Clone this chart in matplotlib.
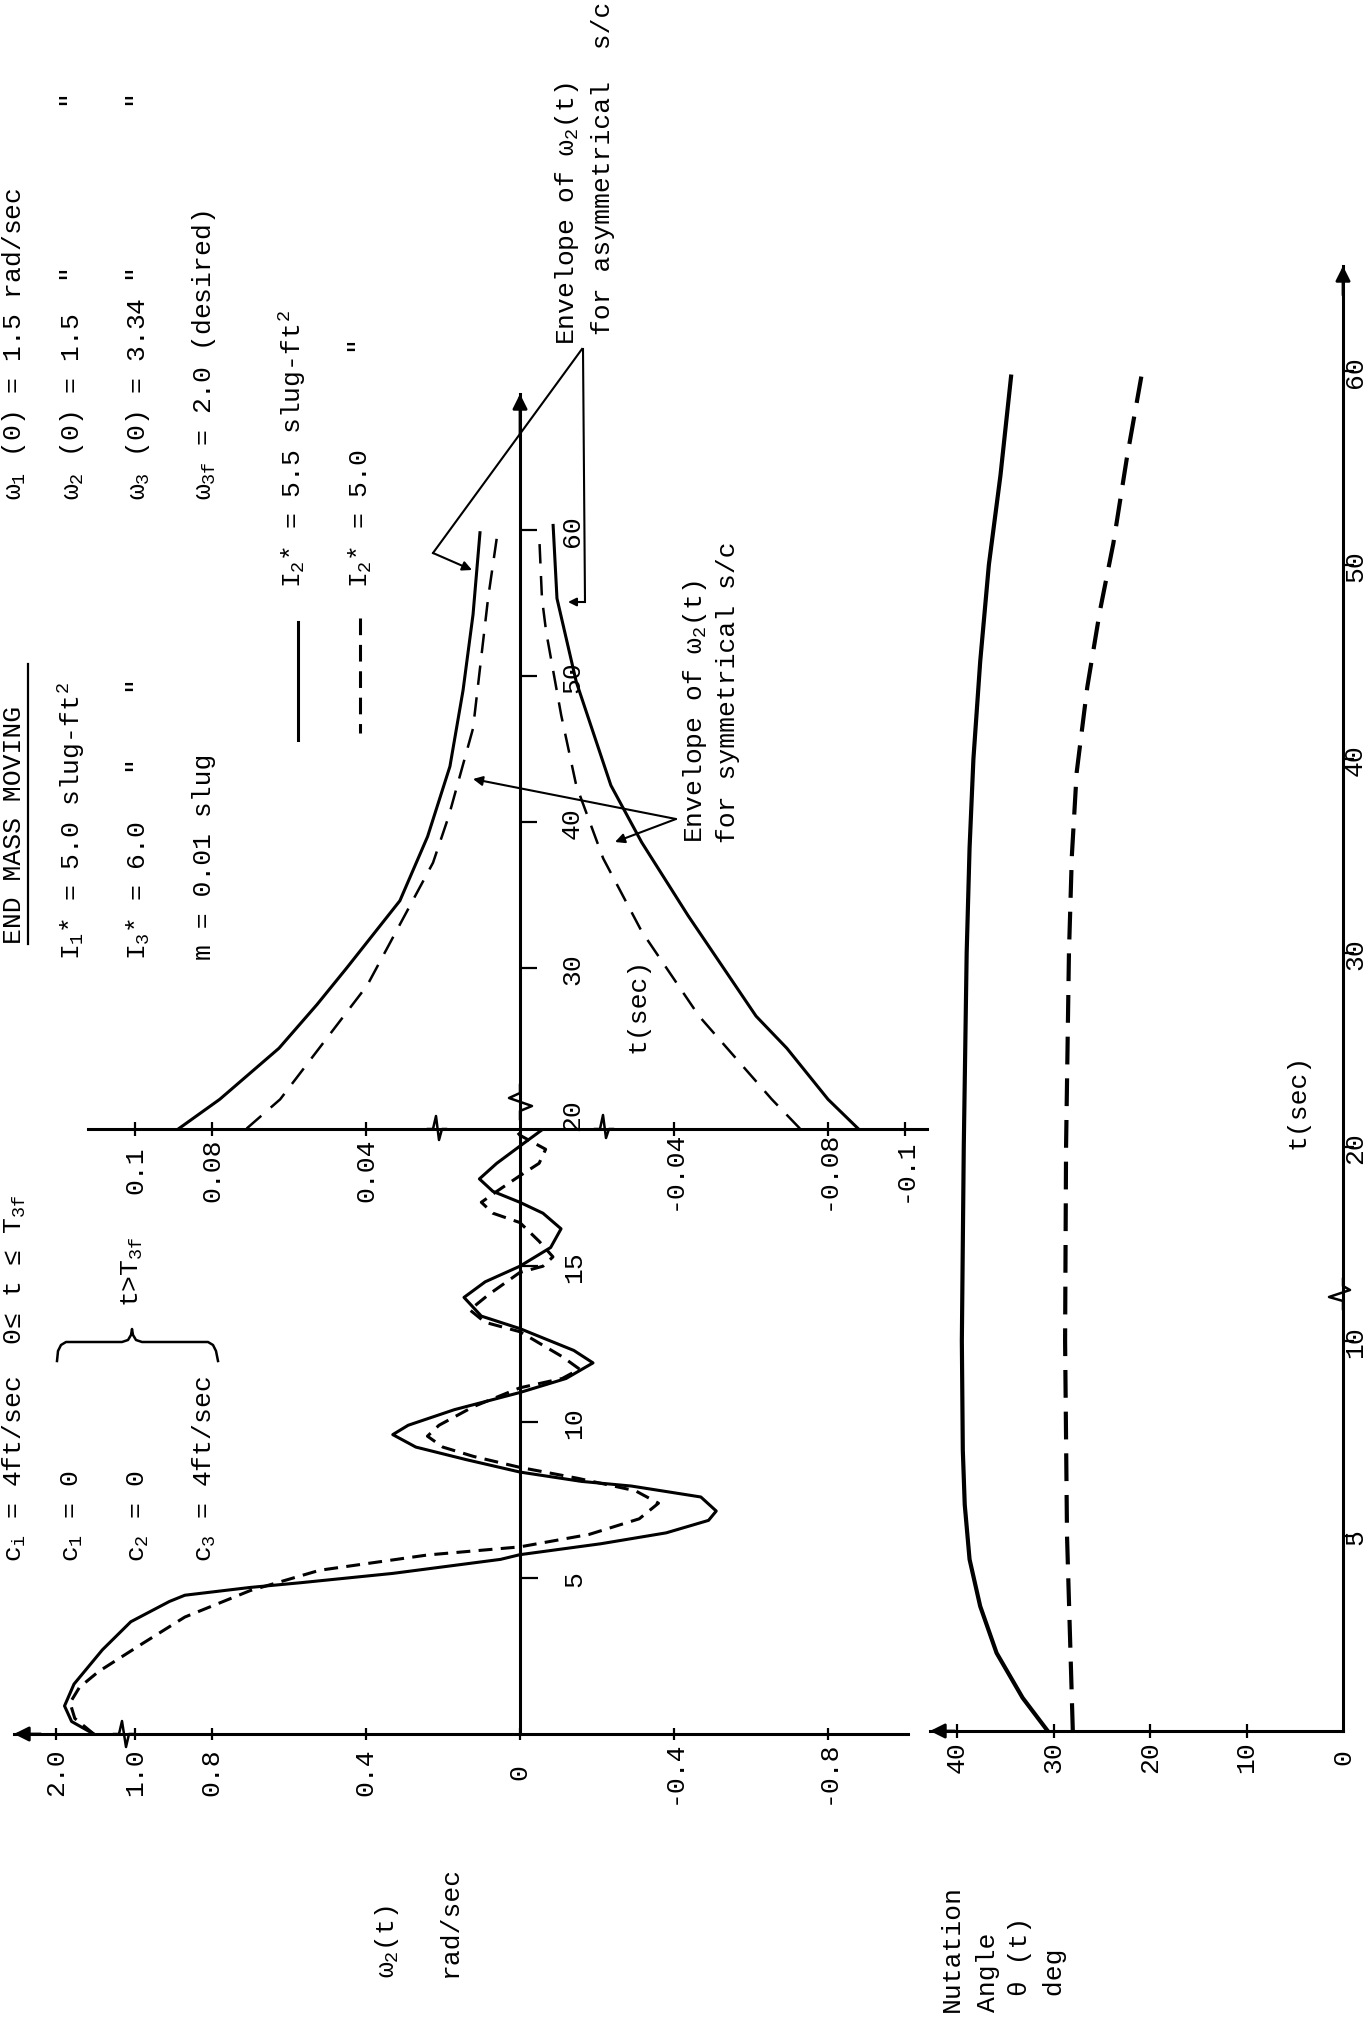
import numpy as np
import matplotlib
matplotlib.use('Agg')
import matplotlib.pyplot as plt
from matplotlib import transforms

plt.rcParams['font.family'] = ['Liberation Mono', 'DejaVu Sans Mono']
plt.rcParams['mathtext.fontset'] = 'custom'
plt.rcParams['mathtext.rm'] = 'Liberation Mono'
plt.rcParams['mathtext.it'] = 'Liberation Mono'
plt.rcParams['mathtext.bf'] = 'Liberation Mono:bold'
plt.rcParams['lines.scale_dashes'] = False

W, H = 1366, 2024
FS = 19

# omega_2(t) in rad/sec for the first 19.4 s
t_w_solid = [0.0, 0.4, 0.9, 1.6, 2.7, 3.6, 4.25, 4.45, 4.7, 4.85, 5.15, 5.6, 5.75,
             6.1, 6.45, 6.85, 7.15, 7.6, 7.95, 8.1, 8.4,
             8.8, 9.2, 9.6, 9.9, 10.4, 10.95,
             11.4, 11.9, 12.3, 12.6, 13.0,
             13.4, 14.0, 14.5, 15.0,
             15.6, 16.2, 16.7, 17.05,
             17.4, 17.8, 18.3, 18.85, 19.35]
w_solid = [1.52, 1.80, 1.89, 1.77, 1.41, 1.05, 0.91, 0.87, 0.70, 0.57, 0.33, 0.05, 0.0,
           -0.21, -0.38, -0.49, -0.51, -0.47, -0.29, -0.16, 0.0,
           0.14, 0.27, 0.33, 0.29, 0.17, 0.0,
           -0.12, -0.19, -0.14, -0.08, 0.0,
           0.10, 0.145, 0.09, 0.0,
           -0.08, -0.107, -0.06, 0.0,
           0.07, 0.105, 0.06, 0.0, -0.055]

t_w_dash = [0.0, 0.5, 1.0, 1.5, 2.0, 2.9, 3.75, 4.6, 5.25, 5.74, 6.0,
            6.4, 6.9, 7.4, 7.8, 8.2, 8.55,
            8.9, 9.2, 9.55, 9.9, 10.5, 11.1,
            11.4, 11.7, 12.1, 12.9,
            13.2, 13.6, 14.1, 14.8,
            15.0, 15.3, 15.8, 16.4,
            16.7, 17.05, 17.4, 17.9,
            18.3, 18.75, 19.2, 19.35]
w_dash = [1.52, 1.76, 1.82, 1.70, 1.46, 0.98, 0.87, 0.70, 0.52, 0.24, 0.0,
          -0.18, -0.31, -0.36, -0.30, -0.15, 0.0,
          0.12, 0.20, 0.24, 0.21, 0.12, 0.0,
          -0.11, -0.155, -0.11, 0.0,
          0.09, 0.13, 0.08, 0.0,
          -0.06, -0.086, -0.05, 0.0,
          0.07, 0.10, 0.06, 0.0,
          -0.05, -0.067, 0.0, 0.01]

# envelopes of omega_2(t) after 19 s
t_env_s_up = [19.0, 21.0, 24.5, 27.5, 30.0, 34.6, 39.0, 43.8, 49.0, 54.2, 59.8]
env_s_up = [0.0886, 0.078, 0.0626, 0.0527, 0.045, 0.0312, 0.024, 0.0182, 0.0148, 0.0122, 0.0104]
t_env_d_up = [19.0, 21.0, 28.8, 37.2, 40.4, 46.4, 55.3, 59.5]
env_d_up = [0.071, 0.0623, 0.0397, 0.0226, 0.0185, 0.0122, 0.0083, 0.006]
t_env_s_lo = [19.0, 21.0, 24.5, 26.7, 33.6, 38.6, 42.5, 49.6, 55.3, 60.3]
env_s_lo = [-0.0878, -0.080, -0.0693, -0.0613, -0.0436, -0.0316, -0.0236, -0.0146, -0.0096, -0.0086]
t_env_d_lo = [19.0, 21.0, 26.7, 32.5, 37.5, 42.5, 47.3, 53.0, 55.3, 59.5]
env_d_lo = [-0.0727, -0.0654, -0.0465, -0.0316, -0.0216, -0.0146, -0.0107, -0.0068, -0.0057, -0.005]

# nutation angle theta(t) in degrees
t_nut_solid = [0.0, 0.85, 2.0, 3.2, 4.4, 5.8, 7.2, 10.0, 20.0, 30.0, 35.4, 40.0, 45.0, 50.0, 54.6, 59.7]
nut_solid = [30.6, 33.2, 35.9, 37.6, 38.7, 39.2, 39.4, 39.5, 39.3, 39.0, 38.7, 38.3, 37.6, 36.7, 35.5, 34.4]
t_nut_dash = [0.0, 5.0, 10.0, 20.0, 30.0, 35.0, 39.3, 43.7, 47.6, 51.1, 55.5, 59.7]
nut_dash = [28.0, 28.6, 28.8, 28.7, 28.4, 28.1, 27.6, 26.5, 25.2, 23.8, 22.4, 20.9]

w_ticks = [2.0, 1.0, 0.8, 0.4, 0.0, -0.4, -0.8]
w_labels = ['2.0', '1.0', '0.8', '0.4', '0', '-0.4', '-0.8']
env_ticks = [0.1, 0.08, 0.04, -0.04, -0.08, -0.1]
env_labels = ['0.1', '0.08', '0.04', '-0.04', '-0.08', '-0.1']
tA_ticks = [5, 10, 15]
tB_ticks = [30, 40, 50, 60]
tB_labels = [20, 30, 40, 50, 60]
nut_ticks = [40, 30, 20, 10]
nut_labels = [40, 30, 20, 10, 0]
tC_ticks = [5, 10, 20, 30, 40, 50, 60]


def box(x0, y0, x1, y1):
    return [x0 / W, 1 - y1 / H, (x1 - x0) / W, (y1 - y0) / H]


fig = plt.figure(figsize=(W / 100, H / 100), dpi=100)
ov = fig.add_axes([0, 0, 1, 1])
ov.set_xlim(0, W)
ov.set_ylim(H, 0)
ov.axis('off')


def vtext(x, y, s, size=FS):
    ov.text(x, y, s, rotation=90, rotation_mode='anchor', ha='left', va='center', fontsize=size)


def arrow(ax, xy, xytext, coords='data', lw=2.0, scale=22):
    ax.annotate('', xy=xy, xytext=xytext, xycoords=coords, textcoords=coords,
                arrowprops=dict(arrowstyle='-|>', lw=lw, color='black', mutation_scale=scale,
                                shrinkA=0, shrinkB=0), annotation_clip=False)


def setup(ax):
    ax.patch.set_visible(False)
    for s in ax.spines.values():
        s.set_linewidth(2.2)
    ax.minorticks_off()


# ---- omega_2(t), first 19.4 s ----
axA = fig.add_axes(box(14, 1130, 908, 1735))
setup(axA)
axA.set_xscale('function', functions=(lambda w: np.where(w > 1, 1 + (w - 1) * 0.205, w),
                                      lambda u: np.where(u > 1, 1 + (u - 1) / 0.205, u)))
axA.set_xlim(2.53, -1.008)
axA.set_ylim(0, 19.4)
axA.spines['top'].set_visible(False)
axA.spines['right'].set_visible(False)
axA.spines['left'].set_position(('data', 0))
axA.set_xticks(w_ticks)
axA.set_yticks(tA_ticks)
axA.minorticks_off()
axA.tick_params(axis='x', direction='inout', length=9, width=1.6, labelbottom=False)
axA.tick_params(axis='y', direction='in', length=13, width=1.6, labelleft=False)
offx = transforms.offset_copy(axA.get_xaxis_transform(), fig=fig, x=0, y=-37, units='dots')
for v, lab in zip(w_ticks, w_labels):
    axA.text(v, 0, lab, transform=offx, rotation=90, ha='center', va='center', fontsize=FS)
offy = transforms.offset_copy(axA.transData, fig=fig, x=54, y=0, units='dots')
for v in tA_ticks:
    axA.text(0, v, str(v), transform=offy, rotation=90, ha='center', va='center', fontsize=FS)
axA.plot(w_solid, t_w_solid, color='black', lw=2.2, clip_on=False, solid_joinstyle='round')
axA.plot(w_dash, t_w_dash, color='black', lw=2.2, ls=(0, (10, 6)), clip_on=False)
arrow(axA, (0, 0), (0.03, 0), coords='axes fraction')

# ---- envelopes after 19 s ----
axB = fig.add_axes(box(88, 395, 927, 1130))
setup(axB)
axB.set_xlim(0.1122, -0.1057)
axB.set_ylim(18.97, 69.3)
axB.spines['top'].set_visible(False)
axB.spines['right'].set_visible(False)
axB.spines['left'].set_position(('data', 0))
axB.set_xticks(env_ticks)
axB.set_yticks(tB_ticks)
axB.tick_params(axis='x', direction='inout', length=10, width=1.6, labelbottom=False)
axB.tick_params(axis='y', direction='in', length=12, width=1.6, labelleft=False)
offx = transforms.offset_copy(axB.get_xaxis_transform(), fig=fig, x=0, y=-40, units='dots')
for v, lab in zip(env_ticks, env_labels):
    axB.text(v, 0, lab, transform=offx, rotation=90, ha='center', va='center', fontsize=FS)
offy = transforms.offset_copy(axB.transData, fig=fig, x=52, y=0, units='dots')
for v in tB_labels:
    axB.text(0, v, str(v), transform=offy, rotation=90, ha='center', va='center', fontsize=FS)
axB.plot(env_s_up, t_env_s_up, color='black', lw=2.2)
axB.plot(env_s_lo, t_env_s_lo, color='black', lw=2.2)
axB.plot(env_d_up, t_env_d_up, color='black', lw=1.8, ls=(0, (14, 9)))
axB.plot(env_d_lo, t_env_d_lo, color='black', lw=1.8, ls=(0, (14, 9)))
arrow(axB, (0, 69.3), (0, 66.5))

# ---- nutation angle ----
axC = fig.add_axes(box(930, 267, 1343, 1732))
setup(axC)
axC.set_yscale('function', functions=(lambda t: np.where(t > 10, 10 + (t - 10) * 0.4974, t),
                                      lambda v: np.where(v > 10, 10 + (v - 10) / 0.4974, v)))
axC.set_xlim(42.8, 0)
axC.set_ylim(0, 65.4)
axC.spines['top'].set_visible(False)
axC.spines['left'].set_visible(False)
axC.yaxis.tick_right()
axC.set_xticks(nut_ticks)
axC.set_yticks(tC_ticks)
axC.minorticks_off()
axC.tick_params(axis='x', direction='inout', length=10, width=1.6, labelbottom=False)
axC.tick_params(axis='y', direction='out', length=8, width=1.6, labelright=False, labelleft=False)
offx = transforms.offset_copy(axC.get_xaxis_transform(), fig=fig, x=0, y=-25, units='dots')
for v in nut_labels:
    axC.text(v, 0, str(v), transform=offx, rotation=90, ha='center', va='center', fontsize=FS)
offy = transforms.offset_copy(axC.get_yaxis_transform(), fig=fig, x=12, y=0, units='dots')
for v in tC_ticks:
    axC.text(1, v, str(v), transform=offy, rotation=90, ha='center', va='center', fontsize=FS)
axC.plot(nut_solid, t_nut_solid, color='black', lw=3.0)
axC.plot(nut_dash, t_nut_dash, color='black', lw=3.0, ls=(0, (20, 10)))
arrow(axC, (0, 0), (0.06, 0), coords='axes fraction')
arrow(axC, (1, 1), (1, 0.98), coords='axes fraction')

# ---- axis breaks ----
brk = dict(color='black', lw=1.8)
ov.plot([114, 119, 122, 126, 129, 134], [1735, 1735, 1722, 1748, 1735, 1735], **brk)
ov.plot([520, 520, 532, 509, 520, 520], [1120, 1112, 1107, 1099, 1094, 1086], **brk)
ov.plot([428, 433, 436, 439, 442, 446], [1130, 1130, 1117, 1141, 1130, 1130], **brk)
ov.plot([595, 600, 603, 606, 609, 613], [1130, 1130, 1116, 1139, 1130, 1130], **brk)
ov.plot([1343, 1343, 1329, 1350, 1343, 1343], [1310, 1302, 1298, 1291, 1287, 1280], **brk)

# ---- header text ----
r0, r1, r2, r3 = 14, 72, 138, 204
vtext(r0, 1562, '$c_i$ = 4ft/sec  0≤ t ≤ $T_{3f}$')
vtext(r1, 1562, '$c_1$ = 0')
vtext(r2, 1562, '$c_2$ = 0')
vtext(r3, 1562, '$c_3$ = 4ft/sec')
vtext(132, 1307, 't>$T_{3f}$')
bx = [57, 58, 61, 66, 122, 128, 131, 132, 133, 136, 142, 208, 213, 216, 218]
by = [1362, 1352, 1346, 1343, 1343, 1341, 1336, 1330, 1336, 1341, 1343, 1343, 1346, 1352, 1362]
ov.plot(bx, by, color='black', lw=1.8)

vtext(r0, 944, 'END MASS MOVING')
ov.plot([28, 28], [665, 945], color='black', lw=1.6)
vtext(r1, 960, '$I_1$* = 5.0 slug-$ft^2$')
vtext(r2, 960, '$I_3$* = 6.0   "    "')
vtext(r3, 960, 'm = 0.01 slug')

vtext(r0, 500, r'$\omega_1$ (0) = 1.5 rad/sec')
vtext(r1, 500, r'$\omega_2$ (0) = 1.5  "          "')
vtext(r2, 500, r'$\omega_3$ (0) = 3.34 "          "')
vtext(r3, 500, r'$\omega_{3f}$ = 2.0 (desired)')

# legend
ov.plot([298, 298], [623, 741], color='black', lw=2.2)
ov.plot([360, 360], [619, 734], color='black', lw=2.2, ls=(0, (12, 7)))
vtext(293, 588, '$I_2$* = 5.5 slug-$ft^2$')
vtext(360, 588, '$I_2$* = 5.0      "')

# envelope notes
vtext(567, 345, r'Envelope of $\omega_2$(t)')
vtext(603, 335, 'for asymmetrical  s/c')
ov.plot([582, 433], [350, 554], color='black', lw=1.5)
arrow(ov, (472, 571), (433, 554), lw=1.5, scale=14)
ov.plot([583, 585], [350, 603], color='black', lw=1.5)
arrow(ov, (568, 603), (585, 603), lw=1.5, scale=12)

vtext(695, 843, r'Envelope of $\omega_2$(t)')
vtext(728, 843, 'for symmetrical s/c')
arrow(ov, (473, 780), (676, 820), lw=1.5, scale=14)
arrow(ov, (615, 843), (676, 820), lw=1.5, scale=14)

# axis titles
vtext(638, 1053, 't(sec)')
vtext(1297, 1149, 't(sec)')
vtext(387, 1978, r'$\omega_2$(t)')
vtext(450, 1977, 'rad/sec')
vtext(952, 2012, 'Nutation')
vtext(988, 2012, 'Angle')
vtext(1020, 2012, ' θ (t)')
vtext(1055, 2012, ' deg')

fig.savefig('out.png', dpi=100, facecolor='white')
